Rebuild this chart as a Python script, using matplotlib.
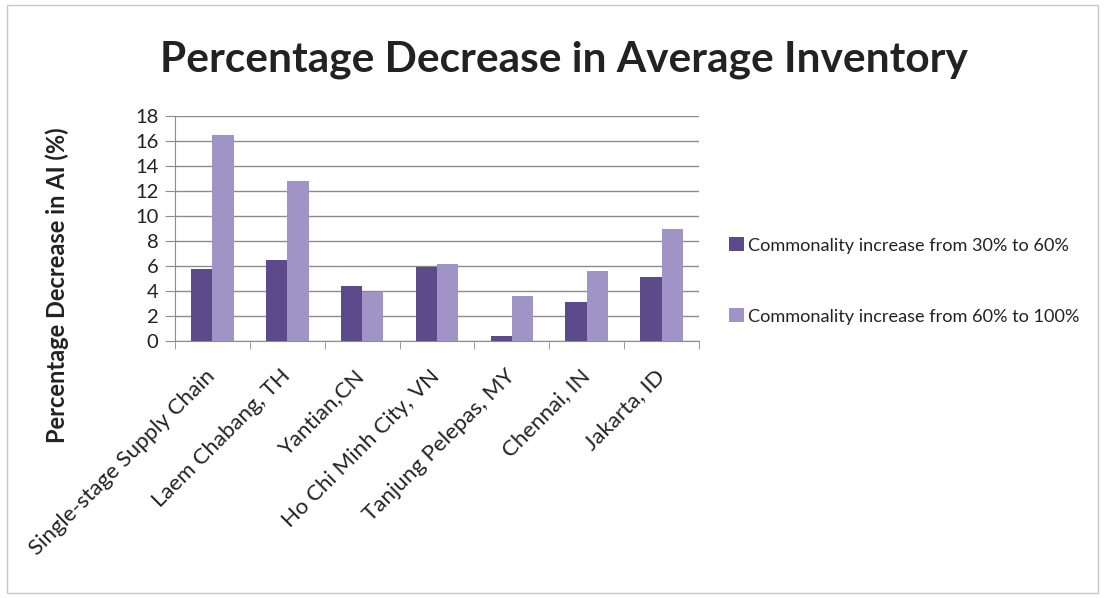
import matplotlib
matplotlib.use("Agg")
import matplotlib.pyplot as plt
import numpy as np
from matplotlib.patches import Rectangle
from matplotlib.transforms import ScaledTranslation

categories = ["Single-stage Supply Chain", "Laem Chabang, TH", "Yantian,CN",
              "Ho Chi Minh City, VN", "Tanjung Pelepas, MY", "Chennai, IN", "Jakarta, ID"]
series_names = ["Commonality increase from 30% to 60%",
                "Commonality increase from 60% to 100%"]
values_30_60 = [5.8, 6.5, 4.4, 5.9, 0.4, 3.1, 5.1]
values_60_100 = [16.5, 12.8, 3.9, 6.2, 3.6, 5.6, 9.0]
yticks = list(range(0, 20, 2))

plt.rcParams['font.family'] = ['Lato', 'DejaVu Sans']

W, H = 1104, 598
fig = plt.figure(figsize=(W/100, H/100), dpi=100)
ax = fig.add_axes([175/W, 1-341/H, (699-175)/W, (341-116)/H])

x = np.arange(len(categories))
w = 0.285
c1 = "#5d4a8a"
c2 = "#a093c6"
ax.bar(x - w/2, values_30_60, width=w, color=c1, label=series_names[0], zorder=3)
ax.bar(x + w/2, values_60_100, width=w, color=c2, label=series_names[1], zorder=3)

ax.set_xlim(-0.5, len(categories) - 0.5)
ax.set_ylim(0, 18)
ax.set_yticks(yticks)
ax.set_yticklabels([str(t) for t in yticks], fontsize=14.5, color="#222222")
ax.yaxis.grid(True, color="#8c8c8c", linewidth=1.0, zorder=0)
ax.set_axisbelow(True)

ax.set_xticks(x)
ax.set_xticklabels(categories, rotation=45, ha="right", va="baseline",
                   rotation_mode="anchor", fontsize=16, color="#222222")
ax.tick_params(axis="x", length=0, pad=26)
offset = ScaledTranslation(4/100, 0, fig.dpi_scale_trans)
for lbl in ax.get_xticklabels():
    lbl.set_transform(lbl.get_transform() + offset)
ax.set_xticks(np.arange(-0.5, len(categories) + 0.5, 1), minor=True)
ax.tick_params(axis="x", which="minor", length=6, color="#8c8c8c", direction="out")
ax.tick_params(axis="y", length=7, color="#8c8c8c", direction="out", pad=5)

for s in ["top", "right"]:
    ax.spines[s].set_visible(False)
for s in ["left", "bottom"]:
    ax.spines[s].set_color("#8c8c8c")

fig.text(57/W, 1-285/H, "Percentage Decrease in AI (%)", rotation=90, ha="center",
         va="center", fontsize=17, fontweight="bold", color="#222222")

fig.suptitle("Percentage Decrease in Average Inventory", x=564/W, y=1-60/H,
             va="center", fontsize=30.5, fontweight="bold", color="#222222")

leg = fig.legend(loc="center left", bbox_to_anchor=(713/W, 1-281/H), frameon=False,
                 fontsize=13.1, labelspacing=3.0, handlelength=0.8, handleheight=0.8,
                 handletextpad=0.25, labelcolor="#222222")

fig.patches.append(Rectangle((7/W, 0.008), 1091/W, 0.984, transform=fig.transFigure,
                             fill=False, edgecolor="#c8c8c8", linewidth=1))

fig.savefig("out.png", dpi=100)
